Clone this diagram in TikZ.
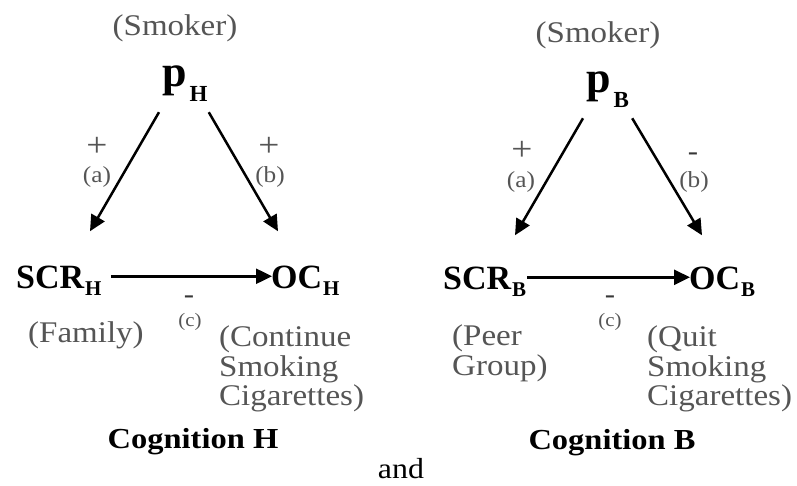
\documentclass[tikz,border=0pt]{standalone}
\usepackage{fontspec}
\setmainfont{Liberation Serif}
\newfontfamily\labelfont[FakeStretch=1.1]{Liberation Serif}
\newfontfamily\titlefont[FakeStretch=1.12]{Liberation Serif}
\usetikzlibrary{arrows.meta}
\definecolor{labelgray}{RGB}{85,85,85}
\definecolor{signgray}{RGB}{55,55,55}
\newcommand{\fsz}[1]{\fontsize{#1}{#1}\selectfont}
\begin{document}
\begin{tikzpicture}[x=1pt,y=-1pt,
  lbl/.style={font=\labelfont\fsz{30}, text=labelgray, inner sep=0pt, anchor=base west},
  lblc/.style={lbl, anchor=base},
  varb/.style={font=\fsz{34}\bfseries, inner sep=0pt, anchor=base west},
  pvar/.style={font=\fsz{44}\bfseries, inner sep=0pt, anchor=base west},
  tag/.style={font=\labelfont\fsz{23}, text=labelgray, inner sep=0pt, anchor=base},
  tagc/.style={font=\labelfont\fsz{19}, text=labelgray, inner sep=0pt, anchor=base},
  plussign/.style={font=\labelfont\fsz{34}, text=labelgray, inner sep=0pt, anchor=base},
  minsign/.style={font=\labelfont\fsz{28}, text=signgray, inner sep=0pt, anchor=base},
  title/.style={font=\titlefont\fsz{29}\bfseries, inner sep=0pt, anchor=base},
  arr/.style={line width=2.5pt, -{Triangle[length=16pt,width=15pt]}}
]
\useasboundingbox (0,0) rectangle (797,485);

% ---------- Cognition H ----------
\node[lblc] (smokH) at (175,35) {(Smoker)};
\node[pvar] (pH) at (162,86) {p\kern3pt\raisebox{-15pt}{\fsz{23}H}};
\node[varb] (scrH) at (16,288) {SCR\kern1pt\raisebox{-7pt}{\fsz{21}H}};
\node[varb] (ocH) at (271,288) {OC\kern1pt\raisebox{-7pt}{\fsz{21}H}};
\node[plussign] (plusaH) at (97,156) {+};
\node[tag] (aH) at (97,182) {(a)};
\node[plussign] (plusbH) at (269,156) {+};
\node[tag] (bH) at (270,182) {(b)};
\node[minsign] (mincH) at (189,303) {-};
\node[tagc] (cH) at (190,326) {(c)};
\node[lbl] (famH) at (28,342) {(Family)};
\node[lbl] (ocH1) at (219,346) {(Continue};
\node[lbl] (ocH2) at (219,376) {Smoking};
\node[lbl] (ocH3) at (219,405) {Cigarettes)};
\node[title] (cogH) at (193,448) {Cognition H};

\draw[arr] ([shift={(-3,11)}]pH.south west) -- ([shift={(74,-34)}]scrH.north west);
\draw[arr] ([shift={(1,11)}]pH.south east) -- ([shift={(7,-34)}]ocH.north west);
\draw[arr] ([shift={(9,-4)}]scrH.east) -- ([shift={(1,-4)}]ocH.west);

% ---------- and ----------
\node[font=\labelfont\fsz{29}, inner sep=0pt, anchor=base] (andw) at (401,478) {and};

% ---------- Cognition B ----------
\node[lblc] (smokB) at (598,42) {(Smoker)};
\node[pvar] (pB) at (586,92) {p\kern3pt\raisebox{-15pt}{\fsz{23}B}};
\node[varb] (scrB) at (443,289) {SCR\kern1pt\raisebox{-7pt}{\fsz{21}B}};
\node[varb] (ocB) at (689,289) {OC\kern1pt\raisebox{-7pt}{\fsz{21}B}};
\node[plussign] (plusaB) at (522,160) {+};
\node[tag] (aB) at (521,187) {(a)};
\node[minsign] (minbB) at (693,160) {-};
\node[tag] (bB) at (694,187) {(b)};
\node[minsign] (mincB) at (610,303) {-};
\node[tagc] (cB) at (610,326) {(c)};
\node[lbl] (peer1) at (452,345) {(Peer};
\node[lbl] (peer2) at (452,375) {Group)};
\node[lbl] (ocB1) at (647,346) {(Quit};
\node[lbl] (ocB2) at (647,376) {Smoking};
\node[lbl] (ocB3) at (647,405) {Cigarettes)};
\node[title] (cogB) at (612,449) {Cognition B};

\draw[arr] ([shift={(-3,11)}]pB.south west) -- ([shift={(72,-31)}]scrB.north west);
\draw[arr] ([shift={(3,11)}]pB.south east) -- ([shift={(13,-31)}]ocB.north west);
\draw[arr] ([shift={(1,-4)}]scrB.east) -- ([shift={(1,-4)}]ocB.west);
\end{tikzpicture}
\end{document}
